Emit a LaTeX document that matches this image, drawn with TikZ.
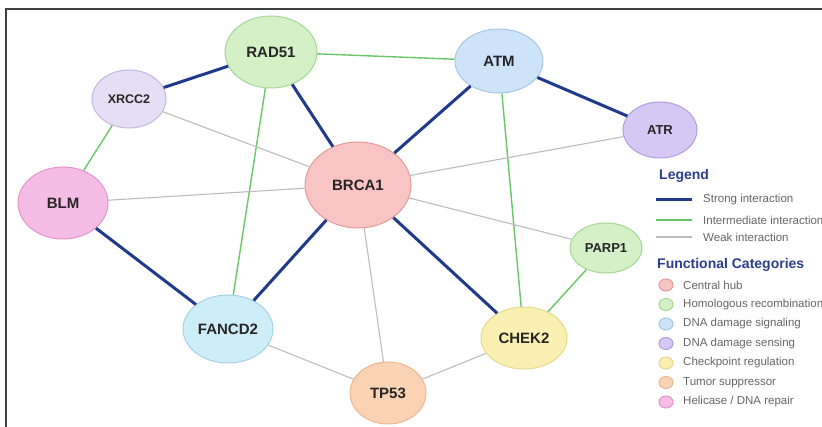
\documentclass[tikz,border=0pt]{standalone}
\usepackage{fontspec}
\setmainfont{Liberation Sans}
\usetikzlibrary{shapes.geometric}
\definecolor{strongc}{HTML}{1F3A8A}
\definecolor{interc}{HTML}{66C866}
\definecolor{weakc}{HTML}{BDBDBD}
\definecolor{hubF}{HTML}{F8C4C4}\definecolor{hubD}{HTML}{E59A9A}
\definecolor{hrF}{HTML}{D3F0C6}\definecolor{hrD}{HTML}{A2D890}
\definecolor{sigF}{HTML}{CCE3F8}\definecolor{sigD}{HTML}{A6C6E6}
\definecolor{senF}{HTML}{D6C8F2}\definecolor{senD}{HTML}{AE9EE0}
\definecolor{xrF}{HTML}{E6DEF4}\definecolor{xrD}{HTML}{C4B6E2}
\definecolor{chkF}{HTML}{FAF0B2}\definecolor{chkD}{HTML}{E6D88C}
\definecolor{tpF}{HTML}{FAD2B4}\definecolor{tpD}{HTML}{EDB690}
\definecolor{blmF}{HTML}{F5BCE6}\definecolor{blmD}{HTML}{E294CC}
\definecolor{faF}{HTML}{CDEEF8}\definecolor{faD}{HTML}{A4D2E4}
\definecolor{legc}{HTML}{2B3F8C}
\definecolor{txtc}{HTML}{666666}
\tikzset{
  gene/.style={ellipse, draw, line width=1pt, inner sep=0pt, font=\bfseries\fontsize{15}{15}\selectfont, text=black!85},
  strongedge/.style={draw=strongc, line width=3pt},
  interedge/.style={draw=interc, line width=1.4pt},
  weakedge/.style={draw=weakc, line width=1.1pt},
  legtext/.style={anchor=west, text=txtc, font=\fontsize{11.5}{12}\selectfont, inner sep=0pt},
  leghead/.style={anchor=west, text=legc, font=\bfseries\fontsize{14}{14}\selectfont, inner sep=0pt},
  catdot/.style={ellipse, draw, line width=1pt, minimum width=14pt, minimum height=12pt, inner sep=0pt}
}
\begin{document}
\begin{tikzpicture}[x=1pt,y=-1pt]
\useasboundingbox (0,0) rectangle (822,427);
\clip (0,0) rectangle (822,427);
\fill[white] (0,0) rectangle (822,427);
\draw[black!75, line width=1.8pt] (6,9) rectangle (840,445);
% nodes
\node[gene, fill=hubF, draw=hubD, minimum width=106pt, minimum height=86pt] (brca1) at (358,185) {BRCA1};
\node[gene, fill=hrF, draw=hrD, minimum width=92pt, minimum height=72pt] (rad51) at (271,52) {RAD51};
\node[gene, fill=sigF, draw=sigD, minimum width=88pt, minimum height=64pt] (atm) at (499,61) {ATM};
\node[gene, fill=xrF, draw=xrD, minimum width=74pt, minimum height=58pt, font=\bfseries\fontsize{12.5}{13}\selectfont] (xrcc2) at (129,99) {XRCC2};
\node[gene, fill=senF, draw=senD, minimum width=74pt, minimum height=56pt, font=\bfseries\fontsize{13}{13}\selectfont] (atr) at (660,130) {ATR};
\node[gene, fill=blmF, draw=blmD, minimum width=90pt, minimum height=72pt] (blm) at (63,203) {BLM};
\node[gene, fill=hrF, draw=hrD, minimum width=72pt, minimum height=50pt, font=\bfseries\fontsize{13}{13}\selectfont] (parp1) at (606,248) {PARP1};
\node[gene, fill=faF, draw=faD, minimum width=90pt, minimum height=68pt] (fancd2) at (228,329) {FANCD2};
\node[gene, fill=chkF, draw=chkD, minimum width=86pt, minimum height=62pt] (chek2) at (524,338) {CHEK2};
\node[gene, fill=tpF, draw=tpD, minimum width=76pt, minimum height=62pt] (tp53) at (388,393) {TP53};
% edges
\draw[strongedge] (xrcc2) -- (rad51);
\draw[strongedge] (rad51) -- (brca1);
\draw[strongedge] (atm) -- (brca1);
\draw[strongedge] (atm) -- (atr);
\draw[strongedge] (blm) -- (fancd2);
\draw[strongedge] (fancd2) -- (brca1);
\draw[strongedge] (brca1) -- (chek2);
\draw[interedge] (rad51) -- (atm);
\draw[interedge] (xrcc2) -- (blm);
\draw[interedge] (rad51) -- (fancd2);
\draw[interedge] (atm) -- (chek2);
\draw[interedge] (parp1) -- (chek2);
\draw[weakedge] (xrcc2) -- (brca1);
\draw[weakedge] (blm) -- (brca1);
\draw[weakedge] (brca1) -- (atr);
\draw[weakedge] (brca1) -- (parp1);
\draw[weakedge] (brca1) -- (tp53);
\draw[weakedge] (fancd2) -- (tp53);
\draw[weakedge] (tp53) -- (chek2);
% legend
\node[leghead] (lg) at (659,176) {Legend};
\coordinate (s1) at (656,200); \coordinate (s2) at (692,200);
\coordinate (i1) at (656,220); \coordinate (i2) at (692,220);
\coordinate (w1) at (656,237); \coordinate (w2) at (692,237);
\draw[strongedge] (s1) -- (s2);
\draw[interedge, line width=1.2pt] (i1) -- (i2);
\draw[weakedge] (w1) -- (w2);
\node[legtext] (ls) at (703,200) {Strong interaction};
\node[legtext] (li) at (703,220) {Intermediate interaction};
\node[legtext] (lw) at (703,237) {Weak interaction};
\node[leghead] (fc) at (657,265) {Functional Categories};
\node[catdot, fill=hubF, draw=hubD] (c1) at (666,285) {};
\node[catdot, fill=hrF, draw=hrD] (c2) at (666,304.5) {};
\node[catdot, fill=sigF, draw=sigD] (c3) at (666,324) {};
\node[catdot, fill=senF, draw=senD] (c4) at (666,343.5) {};
\node[catdot, fill=chkF, draw=chkD] (c5) at (666,363) {};
\node[catdot, fill=tpF, draw=tpD] (c6) at (666,382.5) {};
\node[catdot, fill=blmF, draw=blmD] (c7) at (666,402) {};
\node[legtext] (t1) at (683,285) {Central hub};
\node[legtext] (t2) at (683,304.5) {Homologous recombination};
\node[legtext] (t3) at (683,324) {DNA damage signaling};
\node[legtext] (t4) at (683,343.5) {DNA damage sensing};
\node[legtext] (t5) at (683,363) {Checkpoint regulation};
\node[legtext] (t6) at (683,382.5) {Tumor suppressor};
\node[legtext] (t7) at (683,402) {Helicase / DNA repair};
\end{tikzpicture}
\end{document}
